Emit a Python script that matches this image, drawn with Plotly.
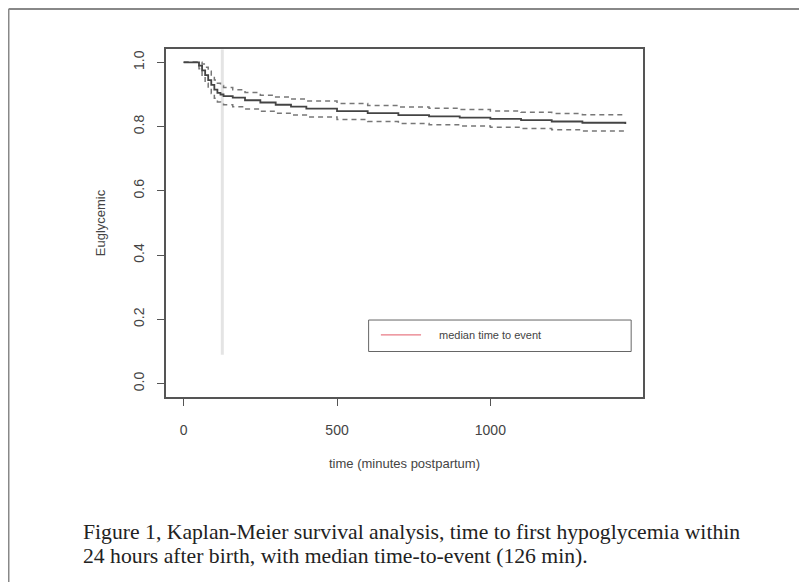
import plotly.graph_objects as go

# Kaplan-Meier estimate
times = [0, 40, 50, 60, 70, 80, 90, 100, 110, 120, 130, 160, 200, 250, 300, 350,
         400, 500, 600, 700, 800, 900, 1000, 1100, 1200, 1300, 1440]
surv = [1.0, 1.0, 0.99, 0.975, 0.96, 0.945, 0.93, 0.915, 0.905, 0.9, 0.895, 0.89,
        0.882, 0.875, 0.868, 0.862, 0.856, 0.848, 0.842, 0.836, 0.832, 0.828,
        0.824, 0.82, 0.816, 0.812, 0.808]
upper = [1.0, 1.0, 1.0, 0.995, 0.985, 0.972, 0.958, 0.945, 0.935, 0.928, 0.922,
         0.915, 0.906, 0.898, 0.892, 0.886, 0.88, 0.872, 0.866, 0.861, 0.857,
         0.853, 0.849, 0.845, 0.841, 0.837, 0.834]
lower = [1.0, 1.0, 0.98, 0.955, 0.935, 0.918, 0.903, 0.888, 0.877, 0.872, 0.868,
         0.862, 0.855, 0.848, 0.842, 0.836, 0.83, 0.822, 0.816, 0.81, 0.806,
         0.802, 0.798, 0.794, 0.79, 0.786, 0.782]
median_time = 126

x_ticks = [0, 500, 1000]
y_ticks = [0.0, 0.2, 0.4, 0.6, 0.8, 1.0]
y_tick_text = ["0.0", "0.2", "0.4", "0.6", "0.8", "1.0"]

legend_label = "median time to event"
caption_lines = ["Figure 1, Kaplan-Meier survival analysis, time to first hypoglycemia within",
                 "24 hours after birth, with median time-to-event (126 min)."]

fig = go.Figure()
fig.add_trace(go.Scatter(x=times, y=upper, mode="lines", line_shape="hv",
                         line=dict(color="#777", width=1.5, dash="5px,4px"), showlegend=False))
fig.add_trace(go.Scatter(x=times, y=lower, mode="lines", line_shape="hv",
                         line=dict(color="#777", width=1.5, dash="5px,4px"), showlegend=False))
fig.add_trace(go.Scatter(x=times, y=surv, mode="lines", line_shape="hv",
                         line=dict(color="#444", width=1.8), showlegend=False))

# median vertical line
fig.add_shape(type="line", xref="x", yref="y", x0=median_time, x1=median_time,
              y0=0.09, y1=1.04, line=dict(color="#e4e4e4", width=3), layer="below")

# legend box (drawn)
fig.add_shape(type="rect", xref="x", yref="y", x0=603, x1=1459, y0=0.10, y1=0.198,
              line=dict(color="#666", width=1), fillcolor="white")
fig.add_shape(type="line", xref="x", yref="y", x0=643, x1=774, y0=0.152, y1=0.152,
              line=dict(color="#e87a85", width=1.2))
fig.add_annotation(x=826, y=0.152, xref="x", yref="y", text=legend_label,
                   showarrow=False, xanchor="left", yanchor="middle",
                   font=dict(family="Liberation Sans, Arial", size=11, color="#444"))

# caption (two lines)
for line_text, ypos in zip(caption_lines, [-0.388, -0.457]):
    fig.add_annotation(x=-0.178, y=ypos, xref="paper", yref="paper", text=line_text,
                       showarrow=False, xanchor="left", yanchor="middle", align="left",
                       font=dict(family="Liberation Serif, Times New Roman", size=21.7, color="#222"))

# outer border (top and left)
fig.add_shape(type="line", xref="paper", yref="paper", x0=-0.33, x1=1.4, y0=1.115, y1=1.115,
              line=dict(color="#888", width=2))
fig.add_shape(type="line", xref="paper", yref="paper", x0=-0.3302, x1=-0.3302, y0=1.115, y1=-0.6,
              line=dict(color="#888", width=2))

fig.update_layout(
    width=807, height=582,
    margin=dict(l=158, r=172, t=41, b=193),
    paper_bgcolor="white", plot_bgcolor="white",
    font=dict(family="Liberation Sans, Arial", color="#444", size=14),
    xaxis=dict(range=[-57.6, 1497.6], tickvals=x_ticks, ticks="outside", ticklen=7,
               tickcolor="#555", showgrid=False, zeroline=False, showline=True,
               linecolor="#555", linewidth=1.5, mirror=True, ticklabelstandoff=12,
               title=dict(text="time (minutes postpartum)", font=dict(size=13), standoff=22)),
    yaxis=dict(range=[-0.0416, 1.0416], tickvals=y_ticks, ticktext=y_tick_text,
               ticks="outside", ticklen=7, tickangle=-90, tickcolor="#555",
               showgrid=False, zeroline=False, showline=True, linecolor="#555",
               linewidth=1.5, mirror=True, ticklabelstandoff=8,
               title=dict(text="Euglycemic", font=dict(size=13), standoff=22)),
)
fig.write_html("out.html")
